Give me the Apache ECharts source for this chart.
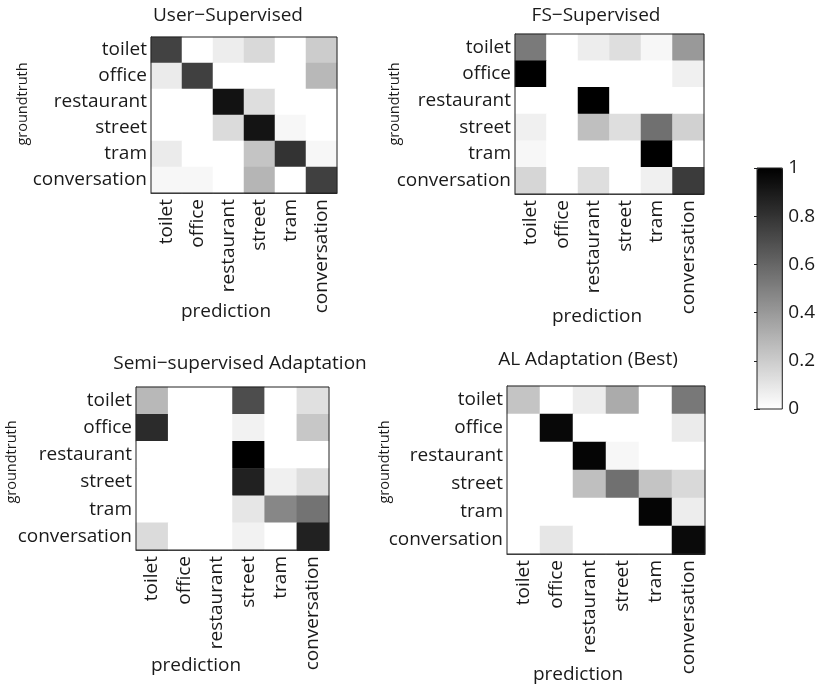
<!DOCTYPE html>
<html><head><meta charset="utf-8">
<script src="https://cdn.jsdelivr.net/npm/echarts@6/dist/echarts.min.js"></script>
<style>html,body{margin:0;padding:0;background:#fff}#c{width:818px;height:686px}</style>
</head><body><div id="c"></div>
<script>
const categories = ['toilet','office','restaurant','street','tram','conversation'];
const titles = ['User\u2212Supervised','FS\u2212Supervised','Semi\u2212supervised Adaptation','AL Adaptation (Best)'];
const colorbarTicks = [0, 0.2, 0.4, 0.6, 0.8, 1];
// rows = groundtruth, columns = prediction
const userSupervised = [
  [0.74, 0, 0.07, 0.15, 0, 0.2],
  [0.08, 0.75, 0, 0, 0, 0.28],
  [0, 0, 0.93, 0.13, 0, 0],
  [0, 0, 0.14, 0.92, 0.03, 0],
  [0.08, 0, 0, 0.23, 0.8, 0.03],
  [0.03, 0.03, 0, 0.29, 0, 0.75]
];
const fsSupervised = [
  [0.52, 0, 0.07, 0.13, 0.03, 0.4],
  [1.0, 0, 0, 0, 0, 0.06],
  [0, 0, 1.0, 0, 0, 0],
  [0.06, 0, 0.25, 0.13, 0.56, 0.18],
  [0.03, 0, 0, 0, 1.0, 0],
  [0.16, 0, 0.13, 0, 0.06, 0.77]
];
const semiAdaptation = [
  [0.28, 0, 0, 0.7, 0, 0.12],
  [0.83, 0, 0, 0.05, 0, 0.22],
  [0, 0, 0, 1.0, 0, 0],
  [0, 0, 0, 0.87, 0.06, 0.13],
  [0, 0, 0, 0.1, 0.47, 0.55],
  [0.14, 0, 0, 0.05, 0, 0.87]
];
const alAdaptation = [
  [0.23, 0, 0.07, 0.33, 0, 0.53],
  [0, 0.97, 0, 0, 0, 0.08],
  [0, 0, 0.98, 0.03, 0, 0],
  [0, 0, 0.25, 0.56, 0.23, 0.15],
  [0, 0, 0, 0, 0.98, 0.07],
  [0, 0.1, 0, 0, 0, 0.96]
];
const matrices = [userSupervised, fsSupervised, semiAdaptation, alAdaptation];

const FONT = 'Open Sans';
const TXT = '#1a1a1a';
const FS = 19;
const grids = [
  {left:151, top:37, width:186, height:156},
  {left:515, top:34, width:189, height:160},
  {left:136, top:387, width:193, height:163},
  {left:507, top:386, width:198, height:168}
];
const titlePos = [[228,6],[596,6],[240,354],[588,350]];
const predPos = [[226,312],[597,317],[196,666],[578,675]];
const gtPos = [[23,104],[395,104],[12,462],[385,462]];

const gridOpts = grids.map(g => Object.assign({show:true, borderColor:'#222', borderWidth:1, z:10, backgroundColor:'transparent'}, g));
gridOpts.push({left:757, top:168, width:26, height:241, show:true, borderColor:'#222', borderWidth:1, z:10, backgroundColor:'transparent'});

const tickStyle = {show:true, inside:true, alignWithLabel:true, length:3, lineStyle:{color:'#222'}};
const xAxes = [], yAxes = [], series = [];
matrices.forEach((m, i) => {
  xAxes.push({type:'category', gridIndex:i, data:categories, boundaryGap:true, position:'bottom',
    axisLine:{show:true, lineStyle:{color:'#222'}}, axisTick:tickStyle,
    axisLabel:{rotate:90, margin:6, fontFamily:FONT, fontSize:FS, color:TXT, interval:0},
    splitLine:{show:false}});
  yAxes.push({type:'category', gridIndex:i, data:categories, inverse:true, boundaryGap:true, position:'left',
    axisLine:{show:true, lineStyle:{color:'#222'}}, axisTick:tickStyle,
    axisLabel:{margin:4, fontFamily:FONT, fontSize:FS, color:TXT, interval:0},
    splitLine:{show:false}});
  const data = [];
  m.forEach((row, r) => row.forEach((v, c) => data.push([c, r, v])));
  series.push({type:'heatmap', xAxisIndex:xAxes.length-1, yAxisIndex:yAxes.length-1, data:data, itemStyle:{borderWidth:0}, emphasis:{disabled:true}, progressive:0});
  // mirrored box ticks (top/right)
  xAxes.push({type:'category', gridIndex:i, data:categories, boundaryGap:true, position:'top',
    axisLine:{show:false}, axisTick:tickStyle, axisLabel:{show:false}, splitLine:{show:false}});
  yAxes.push({type:'category', gridIndex:i, data:categories, inverse:true, boundaryGap:true, position:'right',
    axisLine:{show:false}, axisTick:tickStyle, axisLabel:{show:false}, splitLine:{show:false}});
});
// colorbar axis
const cbX = xAxes.length, cbY = yAxes.length;
xAxes.push({type:'value', gridIndex:4, show:false, min:0, max:1});
yAxes.push({type:'value', gridIndex:4, min:0, max:1, interval:0.2, position:'right',
  axisLine:{show:false}, splitLine:{show:false},
  axisTick:{show:true, inside:true, length:3, lineStyle:{color:'#222'}},
  axisLabel:{margin:6, fontFamily:FONT, fontSize:FS, color:TXT,
    formatter: v => { const t = colorbarTicks.find(x => Math.abs(x - v) < 1e-6); return t === undefined ? '' : String(t); }}});
yAxes.push({type:'value', gridIndex:4, min:0, max:1, interval:0.2, position:'left',
  axisLine:{show:false}, splitLine:{show:false},
  axisTick:{show:true, inside:true, length:3, lineStyle:{color:'#222'}}, axisLabel:{show:false}});
series.push({type:'scatter', xAxisIndex:cbX, yAxisIndex:cbY, data:[], silent:true});

const graphics = [];
titles.forEach((t, i) => graphics.push({type:'text', x:titlePos[i][0], y:titlePos[i][1],
  style:{text:t, font:FS+'px "'+FONT+'"', fill:TXT, textAlign:'center'}}));
predPos.forEach(p => graphics.push({type:'text', x:p[0], y:p[1],
  style:{text:'prediction', font:FS+'px "'+FONT+'"', fill:TXT, textAlign:'center', textVerticalAlign:'middle'}}));
gtPos.forEach(p => graphics.push({type:'text', x:p[0], y:p[1], rotation:Math.PI/2,
  style:{text:'groundtruth', font:'14.5px "'+FONT+'"', fill:TXT, textAlign:'center', textVerticalAlign:'middle'}}));

const chart = echarts.init(document.getElementById('c'), null, {renderer:'canvas'});
chart.setOption({
  animation:false,
  backgroundColor:'#fff',
  grid: gridOpts,
  xAxis: xAxes,
  yAxis: yAxes,
  series: series,
  visualMap: {type:'continuous', min:0, max:1, seriesIndex:[0,1,2,3], orient:'vertical',
    left:757, top:168, itemWidth:26, itemHeight:241, padding:0, calculable:false, text:null, showLabel:false,
    realtime:false, inRange:{color:['#ffffff','#000000']}, hoverLink:false},
  graphic: graphics
});
</script></body></html>
